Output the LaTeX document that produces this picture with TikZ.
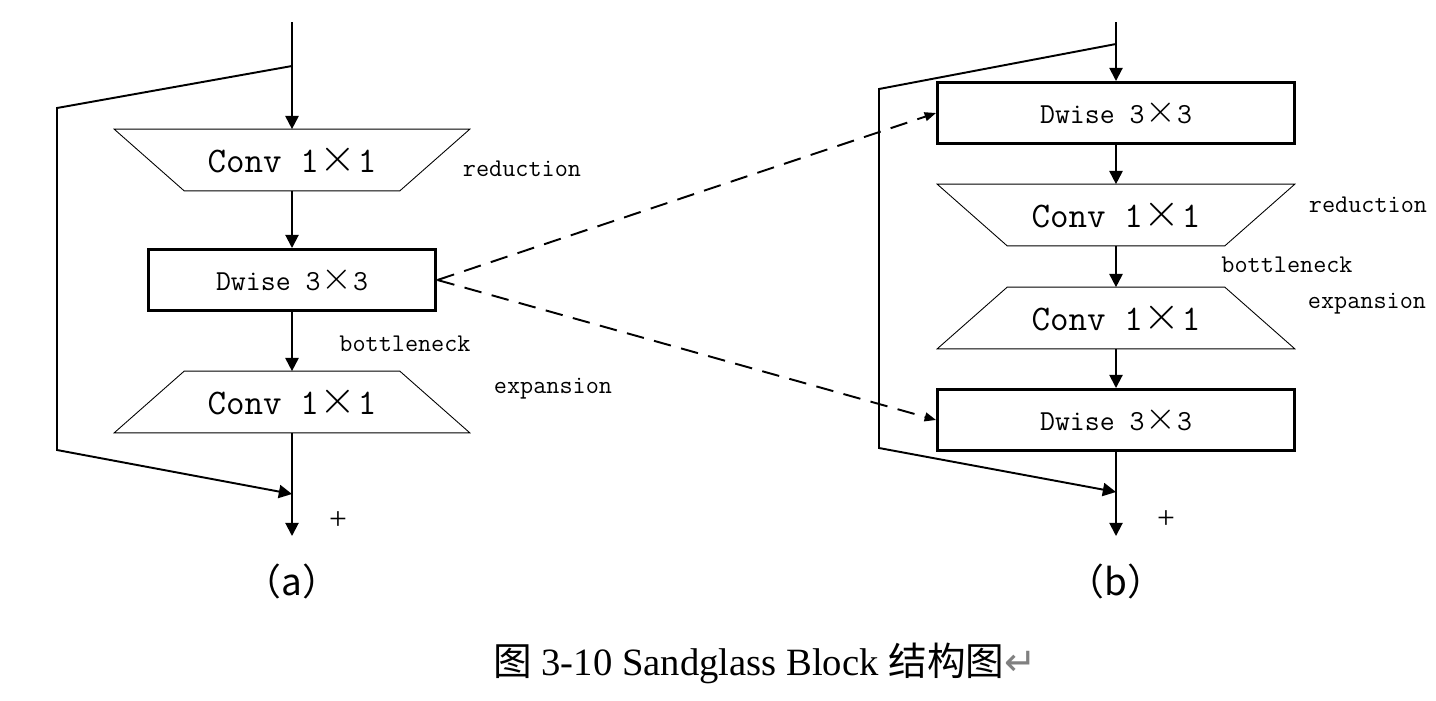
\documentclass[tikz,border=0pt]{standalone}
\usepackage{fontspec}
\setmainfont{Liberation Serif}
\newfontfamily\cjk{Noto Sans CJK SC}
\newfontfamily\symb{DejaVu Sans}
\usetikzlibrary{arrows.meta}

\newcommand{\mulsign}{\kern0.03em\raisebox{0.02em}{\scalebox{1.3}{$\times$}}\kern0.03em}

\tikzset{
  flow/.style={line width=1.1pt,-{Triangle[width=7.5pt,length=7.5pt]}},
  skip/.style={line width=1.1pt},
  link/.style={line width=1.1pt,dash pattern=on 10pt off 6pt,
    -{Triangle[width=5pt,length=6.5pt]}},
  dwbox/.style={draw,line width=1.7pt,minimum height=1.22cm,inner sep=0pt,
    font=\ttfamily\fontsize{16.5}{16.5}\selectfont},
  convbox/.style={minimum width=7.1cm,minimum height=1.22cm,inner sep=0pt,
    font=\ttfamily\fontsize{20.5}{20.5}\selectfont},
  trap/.style={line width=0.5pt},
  tag/.style={inner sep=0pt,font=\ttfamily\fontsize{14.5}{14.5}\selectfont},
  plus/.style={inner sep=0pt,font=\fontsize{18}{18}\selectfont},
  sub/.style={inner sep=0pt,font=\cjk\fontsize{21}{21}\selectfont}
}

\begin{document}
\begin{tikzpicture}[x=0.02cm,y=-0.02cm]
  \useasboundingbox (0,0) rectangle (1436,700);

  % (a)
  \node[convbox] (reda) at (292,160) {Conv 1\mulsign 1};
  \node[dwbox,minimum width=5.76cm] (dwa) at (292,280) {Dwise 3\mulsign 3};
  \node[convbox] (expa) at (292,402) {Conv 1\mulsign 1};
  \coordinate (ina) at (292,22);
  \coordinate (splita) at (292,66);
  \coordinate (mergea) at (292,494);
  \coordinate (outa) at (292,536);

  \node[tag] (rta) at (522,169) {reduction};
  \node[tag] (bta) at (405,344) {bottleneck};
  \node[tag] (eta) at (553,389) {expansion};
  \node[plus] (pla) at (338,521) {+};
  \node[sub] (capa) at (292,581) {（a）};

  \draw[skip] (ina) -- (splita);
  \draw[flow] (splita) -- (reda.north);
  \draw[flow] (reda.south) -- (dwa.north);
  \draw[flow] (dwa.south) -- (expa.north);
  \draw[flow] (expa.south) -- (outa);
  \draw[flow] (splita) -- (57,108) -- (57,450) -- (mergea);

  % (b)
  \node[dwbox,minimum width=7.14cm] (dwb1) at (1116,113) {Dwise 3\mulsign 3};
  \node[convbox,minimum width=7.14cm] (redb) at (1116,215) {Conv 1\mulsign 1};
  \node[convbox,minimum width=7.14cm] (expb) at (1116,318) {Conv 1\mulsign 1};
  \node[dwbox,minimum width=7.14cm] (dwb2) at (1116,420) {Dwise 3\mulsign 3};
  \coordinate (inb) at (1116,22);
  \coordinate (splitb) at (1116,44);
  \coordinate (mergeb) at (1116,492);
  \coordinate (outb) at (1116,536);

  \node[tag] (rtb) at (1368,205) {reduction};
  \node[tag] (btb) at (1287,265) {bottleneck};
  \node[tag] (etb) at (1367,304) {expansion};
  \node[plus] (plb) at (1166,520) {+};
  \node[sub] (capb) at (1116,581) {（b）};

  \draw[skip] (inb) -- (splitb);
  \draw[flow] (splitb) -- (dwb1.north);
  \draw[flow] (dwb1.south) -- (redb.north);
  \draw[flow] (redb.south) -- (expb.north);
  \draw[flow] (expb.south) -- (dwb2.north);
  \draw[flow] (dwb2.south) -- (outb);
  \draw[flow] (splitb) -- (879,89) -- (879,448) -- (mergeb);

  % trapezoids
  \foreach \n in {reda,redb}
    \draw[trap] (\n.north west) -- (\n.north east)
      -- ([xshift=-1.4cm]\n.south east) -- ([xshift=1.4cm]\n.south west) -- cycle;
  \foreach \n in {expa,expb}
    \draw[trap] ([xshift=1.4cm]\n.north west) -- ([xshift=-1.4cm]\n.north east)
      -- (\n.south east) -- (\n.south west) -- cycle;

  % dashed links
  \draw[link] (dwa.east) -- (dwb1.west);
  \draw[link] (dwa.east) -- (dwb2.west);

  % caption
  \node[font=\fontsize{22}{22}\selectfont] (title) at (765,663)
    {{\cjk 图} 3-10 Sandglass Block {\cjk 结构图}{\symb\color{gray}↵}};
\end{tikzpicture}
\end{document}
